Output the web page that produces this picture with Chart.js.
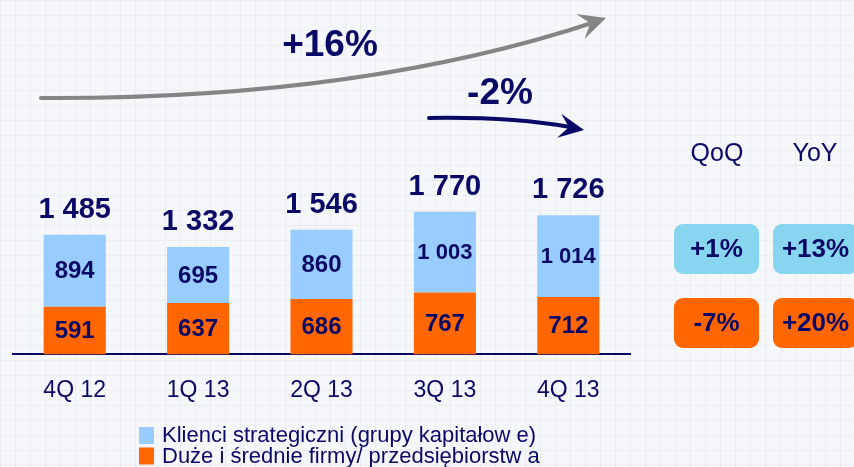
<!DOCTYPE html>
<html>
<head>
<meta charset="utf-8">
<script src="https://cdn.jsdelivr.net/npm/chart.js@4"></script>
<style>
  html, body { margin: 0; padding: 0; }
  body {
    width: 854px; height: 467px; overflow: hidden;
    background-color: #f5f7fa;
    background-image:
      linear-gradient(to right, #eaeef3 1px, transparent 1px),
      linear-gradient(to bottom, #eaeef3 1px, transparent 1px);
    background-size: 15px 15px;
  }
  #wrap { position: relative; width: 854px; height: 467px; }
</style>
</head>
<body>
<div id="wrap"><canvas id="graf"></canvas></div>
<script>
const categories = ['4Q 12', '1Q 13', '2Q 13', '3Q 13', '4Q 13'];
const strategic = [894, 695, 860, 1003, 1014];
const midLarge = [591, 637, 686, 767, 712];
const totals = [1485, 1332, 1546, 1770, 1726];
const seriesNames = ['Klienci strategiczni (grupy kapitałow e)', 'Duże i średnie firmy/ przedsiębiorstw a'];
const trendLabels = ['+16%', '-2%'];
const changeHeaders = ['QoQ', 'YoY'];
const strategicChange = ['+1%', '+13%'];
const midLargeChange = ['-7%', '+20%'];

const NAVY = '#0a0a66';
const FONT = '"Liberation Sans", Arial, sans-serif';

function fmt(n) {
  return String(n).replace(/\B(?=(\d{3})+(?!\d))/g, ' ');
}

function arrowHead(ctx, x, y, ang, len, spread) {
  ctx.beginPath();
  ctx.moveTo(x, y);
  ctx.lineTo(x - len * Math.cos(ang - spread), y - len * Math.sin(ang - spread));
  ctx.lineTo(x - len * 0.55 * Math.cos(ang), y - len * 0.55 * Math.sin(ang));
  ctx.lineTo(x - len * Math.cos(ang + spread), y - len * Math.sin(ang + spread));
  ctx.closePath();
  ctx.fill();
}

function roundBox(ctx, x, y, w, h, r, fill, text) {
  ctx.fillStyle = fill;
  ctx.beginPath();
  ctx.roundRect(x, y, w, h, r);
  ctx.fill();
  ctx.fillStyle = NAVY;
  ctx.font = 'bold 26px ' + FONT;
  ctx.textAlign = 'center';
  ctx.textBaseline = 'middle';
  ctx.fillText(text, x + w / 2, y + h / 2 + 1);
}

const extras = {
  id: 'extras',
  afterDatasetsDraw(chart) {
    const ctx = chart.ctx;
    const bottomMeta = chart.getDatasetMeta(0);
    const topMeta = chart.getDatasetMeta(1);
    ctx.save();
    ctx.fillStyle = NAVY;
    ctx.textAlign = 'center';
    ctx.textBaseline = 'middle';

    // values inside segments
    ctx.font = 'bold 24px ' + FONT;
    bottomMeta.data.forEach((bar, i) => {
      ctx.fillText(fmt(midLarge[i]), bar.x, (bar.y + bar.base) / 2 + 1);
    });
    topMeta.data.forEach((bar, i) => {
      ctx.font = (strategic[i] >= 1000 ? 'bold 22px ' : 'bold 24px ') + FONT;
      ctx.fillText(fmt(strategic[i]), bar.x, (bar.y + bar.base) / 2 + 1);
    });

    // totals above bars
    ctx.font = 'bold 29px ' + FONT;
    topMeta.data.forEach((bar, i) => {
      ctx.fillText(fmt(totals[i]), bar.x, bar.y - 25);
    });

    // trend arrows
    ctx.lineCap = 'round';
    ctx.strokeStyle = '#858585';
    ctx.fillStyle = '#858585';
    ctx.lineWidth = 4;
    ctx.beginPath();
    ctx.moveTo(41, 98);
    ctx.bezierCurveTo(230, 99, 420, 80, 595, 22);
    ctx.stroke();
    arrowHead(ctx, 606, 18, Math.atan2(22 - 80, 595 - 420), 30, 0.45);

    ctx.strokeStyle = NAVY;
    ctx.fillStyle = NAVY;
    ctx.beginPath();
    ctx.moveTo(429, 118);
    ctx.bezierCurveTo(490, 117, 530, 120, 570, 127);
    ctx.stroke();
    arrowHead(ctx, 584, 130, Math.atan2(127 - 120, 570 - 530), 28, 0.45);

    ctx.fillStyle = NAVY;
    ctx.font = 'bold 37px ' + FONT;
    ctx.fillText(trendLabels[0], 330, 46);
    ctx.fillText(trendLabels[1], 500, 94);

    // QoQ / YoY
    ctx.font = '25px ' + FONT;
    ctx.fillText(changeHeaders[0], 717, 154);
    ctx.fillText(changeHeaders[1], 815, 154);
    [674, 773].forEach((x, i) => {
      roundBox(ctx, x, 224, 85, 50, 9, '#88d5ef', strategicChange[i]);
      roundBox(ctx, x, 298, 85, 50, 9, '#ff6600', midLargeChange[i]);
    });

    // legend, top series first
    ctx.font = '22px ' + FONT;
    ctx.textAlign = 'left';
    [1, 0].forEach((d, row) => {
      const ds = chart.data.datasets[d];
      const y = 435 + row * 20.5;
      ctx.fillStyle = ds.backgroundColor;
      ctx.fillRect(139, y - 8, 15, 17);
      ctx.fillStyle = NAVY;
      ctx.fillText(ds.label, 162, y + 1);
    });
    ctx.restore();
  }
};

new Chart(document.getElementById('graf'), {
  type: 'bar',
  data: {
    labels: categories,
    datasets: [
      { label: seriesNames[1], data: midLarge, backgroundColor: '#ff6600' },
      { label: seriesNames[0], data: strategic, backgroundColor: '#99ccff' }
    ]
  },
  options: {
    responsive: true,
    maintainAspectRatio: false,
    animation: false,
    layout: { padding: { left: 13, right: 224, top: 161, bottom: 49 } },
    datasets: { bar: { categoryPercentage: 1, barPercentage: 0.503 } },
    plugins: { legend: { display: false }, tooltip: { enabled: false } },
    scales: {
      x: {
        stacked: true,
        grid: { display: false },
        border: { color: NAVY, width: 2 },
        ticks: { color: NAVY, font: { family: FONT, size: 23 }, padding: 14 }
      },
      y: { stacked: true, display: false, min: 0, max: 2400 }
    }
  },
  plugins: [extras]
});
</script>
</body>
</html>
